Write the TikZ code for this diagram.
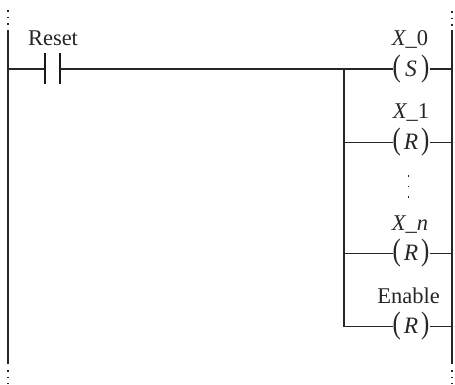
\documentclass[tikz,border=0pt]{standalone}
\usepackage{fontspec}
\usepackage{graphicx}
\setmainfont{Liberation Serif}
\newcommand{\coilbody}[1]{\makebox[37pt]{\scalebox{.8}[1]{\fontsize{31}{31}\selectfont(}\hfill{\fontsize{23.5}{23.5}\selectfont\textit{#1}}\hfill\scalebox{.8}[1]{\fontsize{31}{31}\selectfont)}}}
\tikzset{
  x=1pt,y=-1pt,
  wire/.style={line width=1.4pt,black!85},
  rail/.style={line width=1.4pt,black!85},
  plate/.style={line width=1.4pt,black!90},
  dotted rail/.style={line width=1.2pt,black!85,dash pattern=on 1.5pt off 5.2pt},
  lbl/.style={inner sep=0pt,anchor=base,font=\fontsize{22.5}{22.5}\selectfont,text=black!85},
  coil/.style={inner sep=0pt,outer sep=0pt,text=black!85},
}
\begin{document}
\begin{tikzpicture}
\useasboundingbox (0,0) rectangle (455,384);
% rails
\coordinate (LT) at (8,30); \coordinate (LB) at (8,364);
\coordinate (RT) at (452,30); \coordinate (RB) at (452,364);
\coordinate (LT0) at (8,10); \coordinate (LB0) at (8,384);
\coordinate (RT0) at (452,11); \coordinate (RB0) at (452,384);
\draw[rail] (LT) -- (LB);
\draw[rail] (RT) -- (RB);
\draw[dotted rail] (LT0) -- (LT);
\draw[dotted rail] (RT0) -- (RT);
\draw[dotted rail] (8,370) -- (LB0);
\draw[dotted rail] (452,370) -- (RB0);
% contact
\coordinate (C1t) at (45,53); \coordinate (C1b) at (45,84);
\coordinate (C2t) at (60,53); \coordinate (C2b) at (60,84);
\coordinate (C1) at (45,69); \coordinate (C2) at (60,69);
\coordinate (L0) at (8,69);
\draw[plate] (C1t) -- (C1b);
\draw[plate] (C2t) -- (C2b);
\node[lbl] (reset) at (53,45) {Reset};
% coils
\node[coil] (c0) at (411,69) {\coilbody{S}};
\node[coil] (c1) at (411,142.5) {\coilbody{R}};
\node[coil] (c2) at (411,253.5) {\coilbody{R}};
\node[coil] (c3) at (411,326.5) {\coilbody{R}};
\node[lbl] (l0) at (410,45) {\textit{X\_}0};
\node[lbl] (l1) at (411,118) {\textit{X\_}1};
\node[lbl] (l2) at (410,230) {\textit{X\_n}};
\node[lbl] (l3) at (408.5,303) {Enable};
% branch
\coordinate (B0) at (344,69); \coordinate (B1) at (344,142.5);
\coordinate (B2) at (344,253.5); \coordinate (B3) at (344,326.5);
\draw[wire] (L0) -- (C1);
\draw[wire] (C2) -- (B0) -- (c0.west);
\draw[wire] (B0) -- (B3) -- (c3.west);
\draw[wire] (B1) -- (c1.west);
\draw[wire] (B2) -- (c2.west);
\foreach \n in {c0,c1,c2,c3} \draw[wire] (\n.east) -- (\n.east -| RT);
% vertical ellipsis
\coordinate (E0) at (408,175); \coordinate (E1) at (408,199);
\draw[dotted rail,line width=1pt,dash pattern=on 1.5pt off 9pt] (E0) -- (E1);
\end{tikzpicture}
\end{document}
